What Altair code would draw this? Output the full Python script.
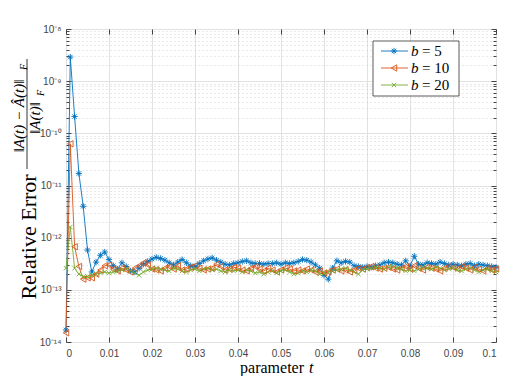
import altair as alt
import pandas as pd

# ---------------- data ----------------
t_values = [round(i * 0.001, 3) for i in range(101)]

# relative error values in units of 1e-13
err_b5 = [0.17, 29000, 2100, 170, 40, 5.8, 2.2, 3.4, 4.6, 5.3,
          3.8, 2.9, 2.5, 3.3, 2.8, 2.3, 2.2, 2.6, 3.1, 3.5,
          3.9, 4.2, 4.0, 3.7, 3.3, 3.0, 3.4, 3.8, 3.3, 2.9,
          2.8, 3.2, 3.6, 3.9, 4.1, 3.7, 3.4, 3.1, 3.0, 3.2,
          3.3, 3.5, 3.6, 3.3, 3.2, 3.2, 3.1, 3.2, 3.2, 3.3,
          3.1, 3.3, 3.2, 3.3, 3.5, 3.8, 3.7, 3.4, 3.0, 2.6,
          1.9, 1.6, 2.6, 3.6, 3.3, 3.5, 3.4, 2.9, 2.8, 2.7,
          2.8, 2.7, 2.9, 3.0, 3.3, 3.4, 3.3, 3.1, 3.0, 3.6,
          2.9, 4.4, 3.1, 3.0, 3.3, 3.2, 3.1, 3.4, 3.2, 3.0,
          3.1, 3.0, 2.9, 3.1, 3.2, 2.9, 3.1, 3.0, 2.9, 2.8, 2.7]
err_b10 = [0.15, 630, 6.7, 2.8, 1.6, 1.7, 1.7, 2.0, 2.4, 2.9,
           3.0, 2.5, 2.3, 2.6, 2.4, 2.2, 2.6, 2.9, 3.3, 3.0,
           2.5, 2.4, 2.3, 2.6, 2.8, 2.5, 2.9, 2.4, 2.5, 2.7,
           2.9, 2.6, 2.4, 2.5, 2.6, 3.1, 2.8, 2.4, 2.5, 2.7,
           2.6, 2.4, 2.3, 2.6, 2.8, 2.5, 2.3, 2.6, 2.4, 2.2,
           2.4, 2.6, 2.5, 2.3, 2.4, 2.3, 2.5, 2.4, 2.2, 2.3,
           2.1, 2.2, 2.4, 2.5, 2.3, 2.4, 2.2, 2.4, 2.6, 2.5,
           2.7, 2.8, 2.6, 2.5, 2.6, 2.7, 2.5, 2.4, 2.6, 2.8,
           2.5, 2.9, 2.6, 2.4, 2.7, 2.6, 2.5, 2.3, 2.6, 2.8,
           2.7, 2.5, 2.8, 2.6, 2.4, 2.7, 2.5, 2.3, 2.6, 2.4, 2.5]
err_b20 = [2.6, 16, 2.6, 2.0, 1.8, 1.8, 1.9, 2.0, 2.1, 2.2,
           2.1, 2.2, 2.3, 2.4, 2.5, 2.3, 2.1, 1.9, 2.2, 2.4,
           2.5, 2.6, 2.5, 2.4, 2.3, 2.6, 2.5, 2.3, 2.2, 2.4,
           2.5, 2.3, 2.5, 2.6, 2.4, 2.5, 2.3, 2.2, 2.4, 2.3,
           2.4, 2.2, 2.4, 2.3, 2.1, 2.2, 2.0, 2.2, 2.3, 2.1,
           2.3, 2.4, 2.2, 2.0, 2.1, 2.3, 2.2, 2.4, 2.3, 2.0,
           2.1, 2.2, 2.3, 2.4, 2.5, 2.6, 2.4, 2.2, 2.0, 2.4,
           2.5, 2.6, 2.7, 2.6, 2.5, 2.7, 2.8, 2.6, 2.5, 2.3,
           2.4, 2.3, 2.5, 2.7, 2.6, 2.5, 2.7, 2.6, 2.4, 2.5,
           2.6, 2.4, 2.3, 2.5, 2.6, 2.4, 2.2, 2.4, 2.5, 2.3, 2.2]

series_names = ["b = 5", "b = 10", "b = 20"]
legend_values = ["5", "10", "20"]
series_colors = ["#0072BD", "#D95319", "#77AC30"]
x_ticks = [0, 0.01, 0.02, 0.03, 0.04, 0.05, 0.06, 0.07, 0.08, 0.09, 0.1]
decade_exps = [-14, -13, -12, -11, -10, -9, -8]

# ---------------- build table ----------------
rows = []
for name, vals in zip(series_names, [err_b5, err_b10, err_b20]):
    for t, v in zip(t_values, vals):
        rows.append({"t": t, "err": v * 1e-13, "series": name})
df = pd.DataFrame(rows)

W, H = 430, 313
decades = [10.0 ** e for e in decade_exps]
minors = [m * 10.0 ** e for e in decade_exps[:-1] for m in range(2, 10)]

SUP = {"-": "\u207b", "0": "\u2070", "1": "\u00b9", "2": "\u00b2", "3": "\u00b3",
       "4": "\u2074", "5": "\u2075", "6": "\u2076", "7": "\u2077", "8": "\u2078", "9": "\u2079"}
def sup(s):
    return "".join(SUP[c] for c in s)

ylab_expr = "".join(
    f"abs(log(datum.value)/LN10 - ({e})) < 0.001 ? '10{sup(str(e))}' : " for e in decade_exps
) + "''"
major_test = "abs(log(datum.value)/LN10 - round(log(datum.value)/LN10)) < 0.001"

xscale = alt.Scale(domain=[0, 0.1], nice=False, zero=False)
yscale = alt.Scale(type="log", domain=[1e-14, 1e-8], nice=False)
color_scale = alt.Scale(domain=series_names, range=series_colors)
shape_scale = alt.Scale(
    domain=series_names,
    range=["M0,-1L0,1M-1,0L1,0M-0.7,-0.7L0.7,0.7M-0.7,0.7L0.7,-0.7",
           "triangle-left",
           "M-0.7,-0.7L0.7,0.7M-0.7,0.7L0.7,-0.7"],
)

LABEL_FONT = "Liberation Sans"
LABEL_COLOR = "#444444"
TICK_COLOR = "#444444"

main_x_axis = alt.Axis(orient="bottom", values=x_ticks, format=".2~f", grid=True,
                       gridColor="#e2e2e2", gridWidth=1, tickSize=0, labelPadding=6,
                       domain=False, title=None, labelFont=LABEL_FONT, labelFontSize=10,
                       labelColor=LABEL_COLOR, labelOverlap=False)
main_y_axis = alt.Axis(orient="left", values=decades + minors, labelExpr=ylab_expr,
                       labelOverlap=False, tickSize=0, labelPadding=5, domain=False,
                       grid=True,
                       gridColor={"condition": {"test": major_test, "value": "#e2e2e2"},
                                  "value": "#d2d2d2"},
                       gridDash={"condition": {"test": major_test, "value": []},
                                 "value": [1, 3]},
                       title=None, labelFont=LABEL_FONT, labelFontSize=10,
                       labelColor=LABEL_COLOR)

base = alt.Chart(df)

lines = base.mark_line(strokeWidth=0.9).encode(
    x=alt.X("t:Q", scale=xscale, axis=main_x_axis),
    y=alt.Y("err:Q", scale=yscale, axis=main_y_axis),
    color=alt.Color("series:N", scale=color_scale, legend=None),
    detail="series:N",
)

points = base.mark_point(filled=False, strokeWidth=0.9, opacity=1).encode(
    x=alt.X("t:Q", scale=xscale, axis=None),
    y=alt.Y("err:Q", scale=yscale, axis=None),
    color=alt.Color("series:N", scale=color_scale, legend=None),
    shape=alt.Shape("series:N", scale=shape_scale, legend=None),
    size=alt.value(40),
)

# inward tick layers
empty = base.transform_filter("false").mark_point()
tick_common = dict(labels=False, domain=False, grid=False, title=None,
                   tickColor=TICK_COLOR, tickWidth=1)

def tick_layer(xaxis, yaxis):
    return empty.encode(
        x=alt.X("t:Q", scale=xscale, axis=xaxis),
        y=alt.Y("err:Q", scale=yscale, axis=yaxis),
    )

t1 = tick_layer(alt.Axis(orient="bottom", values=x_ticks, offset=-5, tickSize=5, **tick_common),
                alt.Axis(orient="left", values=decades, offset=-5, tickSize=5, **tick_common))
t2 = tick_layer(alt.Axis(orient="top", values=x_ticks, offset=-5, tickSize=5, **tick_common),
                alt.Axis(orient="right", values=decades, offset=-5, tickSize=5, **tick_common))
t3 = tick_layer(None, alt.Axis(orient="left", values=minors, offset=-3, tickSize=3, **tick_common))
t4 = tick_layer(None, alt.Axis(orient="right", values=minors, offset=-3, tickSize=3, **tick_common))

one = pd.DataFrame({"a": [0]})

# legend (manual, top-right)
LX0, LX1, LY0, LY1 = 307, 393, 12, 67
legend_layers = [
    alt.Chart(one).mark_rect(fill="white", stroke="#333333", strokeWidth=0.8).encode(
        x=alt.value(LX0), x2=alt.value(LX1), y=alt.value(LY0), y2=alt.value(LY1))
]
row_y = [22, 39, 56]
for i, name in enumerate(series_names):
    ry = row_y[i]
    col = series_colors[i]
    legend_layers.append(
        alt.Chart(one).mark_rule(color=col, strokeWidth=0.9).encode(
            x=alt.value(315), x2=alt.value(342), y=alt.value(ry)))
    legend_layers.append(
        alt.Chart(pd.DataFrame({"series": [name]})).mark_point(
            filled=False, strokeWidth=0.9, opacity=1, size=40).encode(
            x=alt.value(328), y=alt.value(ry),
            color=alt.Color("series:N", scale=color_scale, legend=None),
            shape=alt.Shape("series:N", scale=shape_scale, legend=None)))
    legend_layers.append(
        alt.Chart(one).mark_text(text="b", font="Liberation Serif", fontSize=15,
                                 fontStyle="italic", align="left", baseline="middle",
                                 color="#000000").encode(
            x=alt.value(345), y=alt.value(ry)))
    legend_layers.append(
        alt.Chart(one).mark_text(text="= " + legend_values[i], font="Liberation Serif",
                                 fontSize=15, align="left", baseline="middle",
                                 color="#000000").encode(
            x=alt.value(356), y=alt.value(ry)))

# axis titles
SERIF = "Liberation Serif"
title_layers = [
    alt.Chart(one).mark_text(text="parameter", font=SERIF, fontSize=16, align="right",
                             baseline="alphabetic", color="#000").encode(
        x=alt.value(238), y=alt.value(344)),
    alt.Chart(one).mark_text(text="t", font=SERIF, fontSize=16, fontStyle="italic",
                             align="left", baseline="alphabetic", color="#000").encode(
        x=alt.value(243), y=alt.value(344)),
    alt.Chart(one).mark_text(text="Relative Error", font=SERIF, fontSize=22, angle=270,
                             align="center", baseline="middle", color="#000").encode(
        x=alt.value(-37), y=alt.value(208)),
    # fraction: numerator
    alt.Chart(one).mark_text(text="\u2016A(t) \u2212 \u00c2(t)\u2016", font=SERIF, fontSize=15,
                             fontStyle="italic", angle=270, align="center",
                             baseline="middle", color="#000").encode(
        x=alt.value(-47), y=alt.value(87)),
    alt.Chart(one).mark_text(text="F", font=SERIF, fontSize=10, fontStyle="italic", angle=270,
                             align="center", baseline="middle", color="#000").encode(
        x=alt.value(-42), y=alt.value(38)),
    # fraction bar
    alt.Chart(one).mark_rule(color="#000", strokeWidth=0.8).encode(
        x=alt.value(-39), y=alt.value(30), y2=alt.value(140)),
    # denominator
    alt.Chart(one).mark_text(text="\u2016A(t)\u2016", font=SERIF, fontSize=15,
                             fontStyle="italic", angle=270, align="center",
                             baseline="middle", color="#000").encode(
        x=alt.value(-31), y=alt.value(89)),
    alt.Chart(one).mark_text(text="F", font=SERIF, fontSize=10, fontStyle="italic", angle=270,
                             align="center", baseline="middle", color="#000").encode(
        x=alt.value(-25), y=alt.value(64)),
]

chart = alt.layer(
    lines, points, t1, t2, t3, t4, *legend_layers, *title_layers
).resolve_axis(
    x="independent", y="independent"
).properties(
    width=W, height=H,
    autosize=alt.AutoSizeParams(type="none"),
    padding={"left": 58, "top": 21, "right": 10, "bottom": 34},
).configure_view(
    stroke="#444444", strokeWidth=1
).configure(background="white")

chart.save("out.html", embed_options={"renderer": "svg", "actions": False})
